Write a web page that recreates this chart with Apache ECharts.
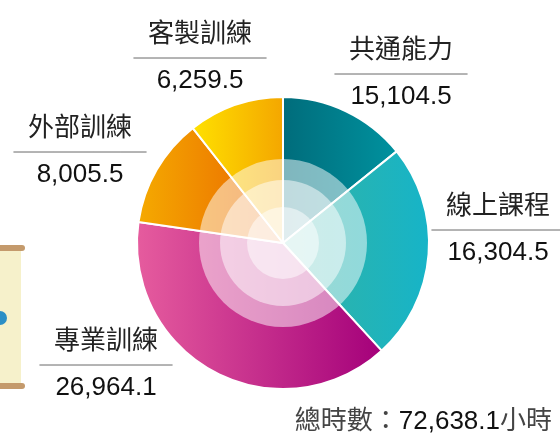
<!DOCTYPE html>
<html>
<head>
<meta charset="utf-8">
<style>
  html, body { margin: 0; padding: 0; background: #fff; }
  #hoursChart { width: 560px; height: 440px; }
</style>
<script src="https://cdn.jsdelivr.net/npm/echarts@6/dist/echarts.min.js"></script>
</head>
<body>
<div id="hoursChart"></div>
<script>
// 類別（順時針，從正上方開始）
const categories = ['共通能力', '線上課程', '專業訓練', '外部訓練', '客製訓練'];
// 標籤上的時數
const hours = [15104.5, 16304.5, 26964.1, 8005.5, 6259.5];
// 圖上扇形實際所佔比例(%)，依參考圖角度估讀
const sliceShare = [14.2, 24.0, 39.1, 12.1, 10.6];

const font = "'Liberation Sans', 'Noto Sans CJK TC', sans-serif";

function fmt(v) {
  return v.toLocaleString('en-US', { minimumFractionDigits: 1, maximumFractionDigits: 1 });
}

// 每個扇形的左右漸層
const sliceColors = [
  ['#006c7b', '#00929f'],
  ['#34b3a2', '#16b4c8'],
  ['#e65c9e', '#a4007a'],
  ['#f5aa00', '#e96200'],
  ['#ffe100', '#f4a600']
];

// 標籤位置 [中心x, 上緣y]
const labelPos = [[401, 28], [498, 184], [106, 319], [80, 106], [200, 12]];

const hoursChart = echarts.init(document.getElementById('hoursChart'));
hoursChart.setOption(hoursChartOption());

function ring(r) {
  return {
    type: 'pie',
    silent: true,
    center: [283, 243],
    radius: [0, r],
    z: 5,
    label: { show: false },
    labelLine: { show: false },
    itemStyle: { color: 'rgba(255,255,255,0.5)' },
    data: [{ value: 1, name: '' }]
  };
}

function hoursChartOption() {
  const total = hours.reduce((a, b) => a + b, 0);
  return {
    animation: false,
    graphic: [
      // 左側卷軸裝飾
      { type: 'rect', shape: { x: 0, y: 248, width: 21, height: 138 }, style: { fill: '#f6f1cb' } },
      { type: 'rect', shape: { x: -10, y: 245, width: 35, height: 6, r: 3 }, style: { fill: '#c49a6c' } },
      { type: 'rect', shape: { x: -10, y: 383, width: 35, height: 6, r: 3 }, style: { fill: '#c49a6c' } },
      { type: 'circle', shape: { cx: 0, cy: 318, r: 7 }, style: { fill: '#2b8fc6' } },
      {
        type: 'text',
        right: 8,
        top: 409,
        style: {
          text: '{c|總時數：}{n|' + fmt(total) + '}{c|小時}',
          rich: {
            c: { fontSize: 26, fontFamily: font, fill: '#444' },
            n: { fontSize: 26, fontFamily: font, fill: '#111' }
          }
        }
      }
    ],
    series: [
      {
        type: 'pie',
        center: [283, 243],
        radius: [0, 146],
        startAngle: 90,
        clockwise: true,
        z: 2,
        itemStyle: { borderColor: '#fff', borderWidth: 2 },
        labelLine: { show: false },
        label: {
          show: true,
          position: 'outside',
          alignTo: 'none',
          overflow: 'none',
          align: 'center',
          formatter: function (p) {
            return '{n|' + p.name + '}\n{hr|}\n{v|' + fmt(hours[p.dataIndex]) + '}';
          },
          rich: {
            n: { fontSize: 26, fontFamily: font, color: '#222', lineHeight: 45, align: 'center' },
            hr: { width: 133, height: 0, borderColor: '#555', borderWidth: 1, borderType: [1, 1], lineHeight: 2, align: 'center' },
            v: { fontSize: 26, fontFamily: font, color: '#111', lineHeight: 44, align: 'center' }
          }
        },
        labelLayout: function (p) {
          const pos = labelPos[p.dataIndex];
          return { x: pos[0], y: pos[1], align: 'center', verticalAlign: 'top' };
        },
        data: categories.map((c, i) => ({
          name: c,
          value: sliceShare[i],
          itemStyle: {
            color: new echarts.graphic.LinearGradient(0, 0, 1, 0, [
              { offset: 0, color: sliceColors[i][0] },
              { offset: 1, color: sliceColors[i][1] }
            ])
          }
        }))
      },
      ring(84),
      ring(63),
      ring(36)
    ]
  };
}
</script>
</body>
</html>
